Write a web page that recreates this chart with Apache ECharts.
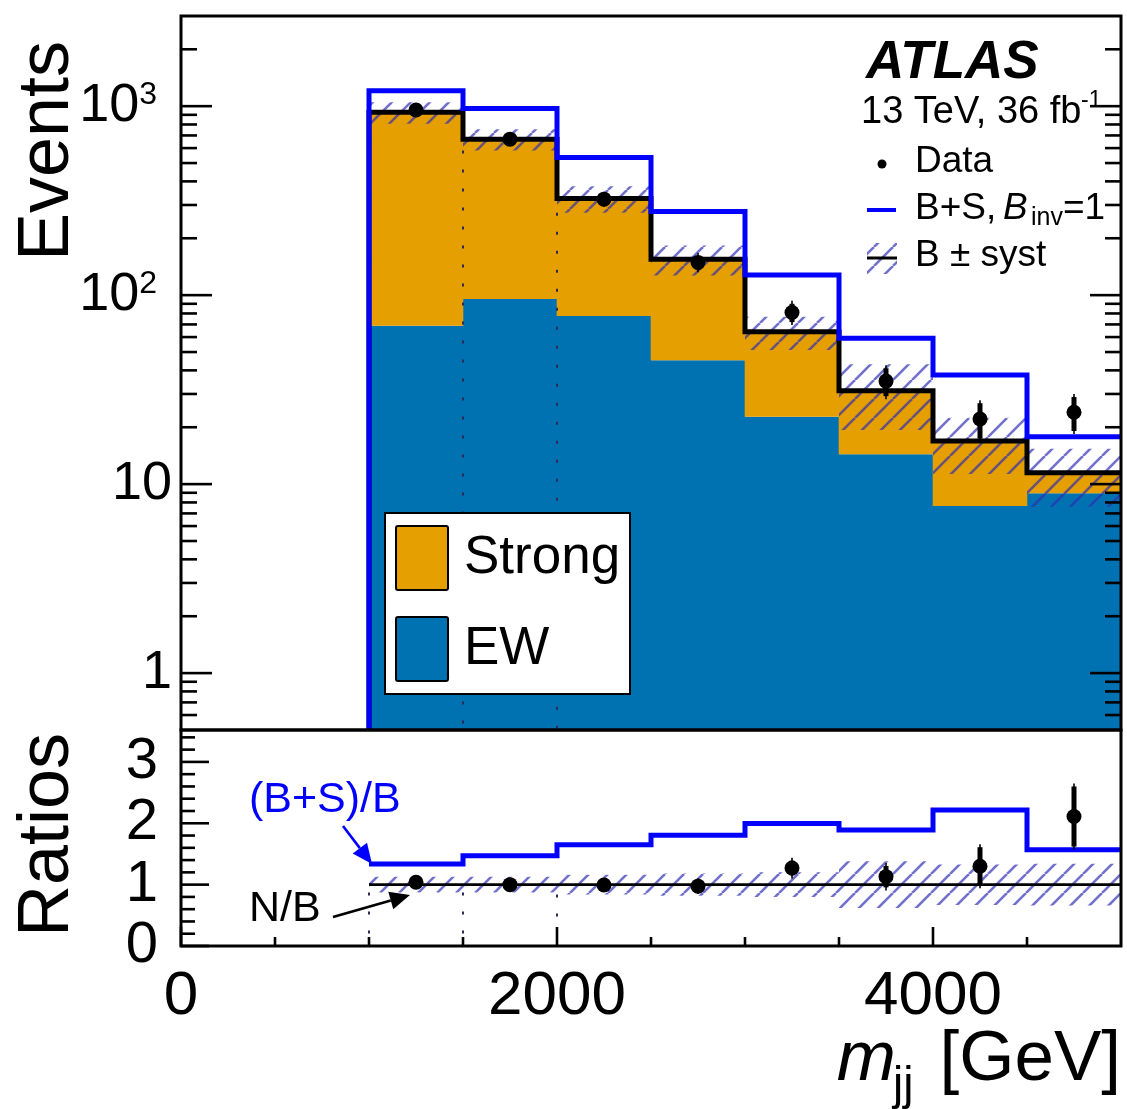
<!DOCTYPE html>
<html>
<head>
<meta charset="utf-8">
<script src="https://cdn.jsdelivr.net/npm/echarts@6/dist/echarts.min.js"></script>
<style>
  html, body { margin: 0; padding: 0; background: #fff; }
  #chart { width: 1127px; height: 1109px; }
</style>
</head>
<body>
<div id="chart"></div>
<script>
// m_jj bins [GeV]
const binEdges = [1000, 1500, 2000, 2500, 3000, 3500, 4000, 4500, 5000];
// background components (stacked)
const ewYield = [68.9, 95.3, 77.6, 45.3, 22.7, 14.4, 7.67, 8.95];
const strongYield = [860, 574, 247, 110, 41.3, 16.8, 9.2, 2.55];
// total background and its relative systematic uncertainty
const bkgTotal = [929, 669, 325, 155, 64, 31.2, 16.9, 11.5];
const bkgSystRel = [0.13, 0.13, 0.16, 0.18, 0.20, 0.38, 0.33, 0.34];
// background + signal for B_inv = 1
const sigPlusBkg = [1205, 972, 535, 277, 128, 59.2, 37.8, 17.8];
// observed events
const dataCounts = [955, 669, 322, 149, 81, 35.1, 22.1, 24.0];
const dataErr = [31, 26, 18, 12, 9, 5.9, 4.7, 4.9];
// ratio panel
const ratioSplusB = [1.335, 1.47, 1.65, 1.805, 1.995, 1.89, 2.215, 1.567];
const ratioNB = [1.04, 1.0, 0.995, 0.975, 1.27, 1.13, 1.30, 2.11];
const ratioNBErr = [0.03, 0.04, 0.055, 0.08, 0.12, 0.175, 0.31, 0.49];
// axes
const massRange = [0, 5000];
const eventsRange = [0.5, 3000];
const ratioRange = [0, 3.52];
const massLabelStep = 2000;
const massMinorStep = 500;
const eventsMajorTicks = [1, 10, 100, 1000];
const ratioMajorTicks = [0, 1, 2, 3];
const ratioMinorStep = 0.2;
const dottedEdgesTop = [1500, 2000];
const dottedEdgesBottom = [1000, 1500, 2000];

const FONT = "'Liberation Sans', Arial, Helvetica, sans-serif";
const ORANGE = '#E69F00';
const EWBLUE = '#0072B2';
const LINEBLUE = '#0000FF';

function makeHatch() {
  const s = 19;
  const c = document.createElement('canvas');
  c.width = s; c.height = s;
  const ctx = c.getContext('2d');
  ctx.strokeStyle = 'rgba(45,45,180,0.68)';
  ctx.lineWidth = 2.6;
  for (const o of [-s, 0, s]) {
    ctx.beginPath();
    ctx.moveTo(o, s);
    ctx.lineTo(o + s, 0);
    ctx.stroke();
  }
  return c;
}
const hatchFill = { image: makeHatch(), repeat: 'repeat' };

// tick value lists
const eventsMinorTicks = [];
[0.1, 1, 10, 100, 1000].forEach(d => {
  for (let k = 2; k <= 9; k++) {
    const v = +(k * d).toPrecision(3);
    if (v > eventsRange[0] && v < eventsRange[1]) eventsMinorTicks.push(v);
  }
});
const massMajorTicks = [], massMinorTicks = [];
for (let v = massRange[0]; v < massRange[1]; v += massMinorStep) {
  (v % massLabelStep === 0 ? massMajorTicks : massMinorTicks).push(v);
}
const ratioMinorTicks = [];
for (let i = 1; i * ratioMinorStep < ratioRange[1]; i++) {
  const v = +(i * ratioMinorStep).toFixed(2);
  if (Math.abs(v - Math.round(v)) > 1e-6) ratioMinorTicks.push(v);
}

const nBins = binEdges.length - 1;
const binLo = binEdges.slice(0, nBins);
const binHi = binEdges.slice(1);
const binMid = binLo.map((lo, i) => (lo + binHi[i]) / 2);

function tickMarks(gi, axis, values, len, bothSides) {
  const yRef = gi === 0 ? eventsRange[0] : ratioRange[0];
  return {
    type: 'custom', xAxisIndex: gi, yAxisIndex: gi, silent: true, z: 30, clip: false,
    data: values.map(v => axis === 'y' ? [massRange[0], v] : [v, yRef]),
    encode: { x: 0, y: 1 },
    renderItem(params, api) {
      const cs = params.coordSys;
      const p = api.coord([api.value(0), api.value(1)]);
      const st = { stroke: '#000', lineWidth: 2.6 };
      const kids = [];
      if (axis === 'y') {
        kids.push({ type: 'line', shape: { x1: cs.x, y1: p[1], x2: cs.x + len, y2: p[1] }, style: st });
        if (bothSides) kids.push({ type: 'line', shape: { x1: cs.x + cs.width, y1: p[1], x2: cs.x + cs.width - len, y2: p[1] }, style: st });
      } else {
        const yb = cs.y + cs.height;
        kids.push({ type: 'line', shape: { x1: p[0], y1: yb, x2: p[0], y2: yb - len }, style: st });
      }
      return { type: 'group', children: kids };
    }
  };
}

// histogram fill between two values of the upper panel
function fillSeries(name, lower, upper, color, z) {
  return {
    name, type: 'custom', xAxisIndex: 0, yAxisIndex: 0, z, clip: true, silent: true,
    data: binLo.map((lo, i) => [lo, binHi[i], lower ? lower[i] : eventsRange[0], upper(i)]),
    encode: { x: [0, 1], y: [3] },
    renderItem(params, api) {
      const a = api.coord([api.value(0), api.value(3)]);
      const b = api.coord([api.value(1), api.value(2)]);
      return { type: 'rect', shape: { x: a[0] - 0.3, y: a[1], width: b[0] - a[0] + 0.6, height: b[1] - a[1] }, style: { fill: color } };
    }
  };
}

function hatchSeries(gi, center) {
  return {
    type: 'custom', xAxisIndex: gi, yAxisIndex: gi, z: 5, clip: true, silent: true,
    data: binLo.map((lo, i) => [lo, binHi[i], center(i) * (1 - bkgSystRel[i]), center(i) * (1 + bkgSystRel[i])]),
    encode: { x: [0, 1], y: [2, 3] },
    renderItem(params, api) {
      const a = api.coord([api.value(0), api.value(3)]);
      const b = api.coord([api.value(1), api.value(2)]);
      return { type: 'rect', shape: { x: a[0], y: a[1], width: b[0] - a[0], height: b[1] - a[1] }, style: { fill: hatchFill } };
    }
  };
}

function dottedSeries(gi, edges, startVal) {
  return {
    type: 'custom', xAxisIndex: gi, yAxisIndex: gi, z: 4, clip: true, silent: true,
    data: edges.map(e => [e, startVal(binEdges.indexOf(e))]),
    encode: { x: 0, y: 1 },
    renderItem(params, api) {
      const cs = params.coordSys;
      const p = api.coord([api.value(0), api.value(1)]);
      return { type: 'line', shape: { x1: p[0], y1: p[1], x2: p[0], y2: cs.y + cs.height },
        style: { stroke: '#2b2b55', lineWidth: 2, lineDash: [3, 16] } };
    }
  };
}

function stepLine(gi, values, color, width, fromBottom, z) {
  const pts = [];
  if (fromBottom) pts.push([binEdges[0], eventsRange[0]]);
  binLo.forEach((lo, i) => pts.push([lo, values[i]]));
  pts.push([binEdges[nBins], values[nBins - 1]]);
  return {
    type: 'line', xAxisIndex: gi, yAxisIndex: gi, step: 'end', data: pts, z, silent: true,
    symbol: 'none', lineStyle: { color, width, join: 'miter', cap: 'butt' }, animation: false
  };
}

function errorBars(gi, values, errs) {
  return {
    type: 'custom', xAxisIndex: gi, yAxisIndex: gi, z: 8, clip: true, silent: true,
    data: binMid.map((m, i) => [m, values[i], values[i] - errs[i], values[i] + errs[i]]),
    encode: { x: 0, y: [1, 2, 3] },
    renderItem(params, api) {
      const lo = api.coord([api.value(0), api.value(2)]);
      const hi = api.coord([api.value(0), api.value(3)]);
      return { type: 'group', children: [
        { type: 'line', shape: { x1: lo[0], y1: lo[1] + 3, x2: hi[0], y2: hi[1] - 3 }, style: { stroke: '#000', lineWidth: 1.6 } },
        { type: 'line', shape: { x1: lo[0], y1: lo[1], x2: hi[0], y2: hi[1] }, style: { stroke: '#000', lineWidth: 5 } }
      ] };
    }
  };
}

function dataPoints(gi, values) {
  return {
    type: 'scatter', xAxisIndex: gi, yAxisIndex: gi, z: 9, silent: true,
    data: binMid.map((m, i) => [m, values[i]]),
    symbol: 'circle', symbolSize: 15, itemStyle: { color: '#000', opacity: 1 }
  };
}

function isPow10(v) {
  const l = Math.log10(v);
  return Math.abs(l - Math.round(l)) < 1e-6;
}

function arrow(tail, tip, color) {
  const dx = tip[0] - tail[0], dy = tip[1] - tail[1];
  const L = Math.hypot(dx, dy), ux = dx / L, uy = dy / L;
  const hl = 20, hw = 9;
  const bc = [tip[0] - hl * ux, tip[1] - hl * uy];
  return [
    { type: 'line', z: 100, shape: { x1: tail[0], y1: tail[1], x2: bc[0], y2: bc[1] }, style: { stroke: color, lineWidth: 2.6 } },
    { type: 'polygon', z: 100, shape: { points: [tip, [bc[0] - hw * uy, bc[1] + hw * ux], [bc[0] + hw * uy, bc[1] - hw * ux]] }, style: { fill: color } }
  ];
}

function txt(x, y, text, size, opts) {
  opts = opts || {};
  return {
    type: 'text', x, y, z: 100, rotation: opts.rotation || 0,
    style: {
      text, fill: opts.color || '#000',
      font: (opts.style || 'normal') + ' ' + (opts.weight || 'normal') + ' ' + size + 'px ' + FONT,
      textAlign: opts.align || 'left', textVerticalAlign: 'middle'
    }
  };
}

const chart = echarts.init(document.getElementById('chart'), null, { renderer: 'canvas' });

const option = {
  animation: false,
  backgroundColor: '#fff',
  grid: [
    { left: 181, top: 16, width: 940, height: 714, show: false },
    { left: 181, top: 730, width: 940, height: 216, show: false }
  ],
  xAxis: [
    { type: 'value', gridIndex: 0, min: massRange[0], max: massRange[1],
      axisLine: { show: false }, axisTick: { show: false }, axisLabel: { show: false }, splitLine: { show: false } },
    { type: 'value', gridIndex: 1, min: massRange[0], max: massRange[1], interval: massLabelStep,
      axisLine: { show: false }, axisTick: { show: false }, splitLine: { show: false },
      axisLabel: { margin: 20, fontSize: 62, fontFamily: FONT, color: '#000',
        formatter: v => (v % massLabelStep === 0 && v < massRange[1]) ? String(v) : '' } }
  ],
  yAxis: [
    { type: 'log', logBase: 10, gridIndex: 0, min: eventsRange[0], max: eventsRange[1],
      axisLine: { show: false }, axisTick: { show: false }, splitLine: { show: false },
      axisLabel: { margin: 9, fontFamily: FONT, color: '#000',
        formatter: v => {
          if (!isPow10(v) || v < 0.99 || v > 1001) return '';
          const e = Math.round(Math.log10(v));
          return e >= 2 ? '{b|10}{e|' + e + '}' : '{b|' + Math.pow(10, e) + '}';
        },
        rich: {
          b: { fontSize: 54, fontFamily: FONT, color: '#000' },
          e: { fontSize: 32, fontFamily: FONT, color: '#000', verticalAlign: 'top', padding: [0, 15, 0, 0] }
        } } },
    { type: 'value', gridIndex: 1, min: ratioRange[0], max: ratioRange[1], interval: 1,
      axisLine: { show: false }, axisTick: { show: false }, splitLine: { show: false },
      axisLabel: { margin: 23, fontSize: 58, fontFamily: FONT, color: '#000',
        formatter: v => ratioMajorTicks.includes(v) ? String(v) : '' } }
  ],
  series: [
    fillSeries('EW', null, i => ewYield[i], EWBLUE, 1),
    fillSeries('Strong', ewYield, i => ewYield[i] + strongYield[i], ORANGE, 1),
    dottedSeries(0, dottedEdgesTop, i => bkgTotal[i] * (1 - bkgSystRel[i])),
    hatchSeries(0, i => bkgTotal[i]),
    stepLine(0, bkgTotal, '#000', 5, true, 6),
    stepLine(0, sigPlusBkg, LINEBLUE, 5, true, 7),
    errorBars(0, dataCounts, dataErr),
    dataPoints(0, dataCounts),

    dottedSeries(1, dottedEdgesBottom, i => 1 - bkgSystRel[i]),
    hatchSeries(1, () => 1),
    { type: 'line', xAxisIndex: 1, yAxisIndex: 1, data: [[binEdges[0], 1], [binEdges[nBins], 1]], z: 6,
      symbol: 'none', silent: true, lineStyle: { color: '#000', width: 2.6 } },
    stepLine(1, ratioSplusB, LINEBLUE, 5, false, 7),
    errorBars(1, ratioNB, ratioNBErr),
    dataPoints(1, ratioNB),

    tickMarks(0, 'y', eventsMajorTicks, 31, true),
    tickMarks(0, 'y', eventsMinorTicks, 16, true),
    tickMarks(1, 'y', ratioMajorTicks, 28, false),
    tickMarks(1, 'y', ratioMinorTicks, 14, false),
    tickMarks(1, 'x', massMajorTicks, 19, false),
    tickMarks(1, 'x', massMinorTicks, 9, false)
  ],
  graphic: [
    // panel frames
    { type: 'rect', z: 100, shape: { x: 181, y: 16, width: 940, height: 714 }, style: { fill: 'none', stroke: '#000', lineWidth: 3 } },
    { type: 'rect', z: 100, shape: { x: 181, y: 730, width: 940, height: 216 }, style: { fill: 'none', stroke: '#000', lineWidth: 3 } },

    // axis titles
    txt(48, 151, 'Events', 72, { align: 'center', rotation: Math.PI / 2 }),
    txt(48, 835, 'Ratios', 72, { align: 'center', rotation: Math.PI / 2 }),
    txt(1121, 1060, '[GeV]', 71, { align: 'right' }),
    txt(896, 1060, 'm', 71, { align: 'right', style: 'italic' }),
    txt(893, 1086, 'jj', 46, { align: 'left' }),

    // labels
    txt(866, 63, 'ATLAS', 53, { weight: 'bold', style: 'italic' }),
    txt(861, 113, '13 TeV, 36 fb', 38),
    txt(1081, 101, '-1', 23),

    { type: 'circle', z: 100, shape: { cx: 882, cy: 164, r: 4.5 }, style: { fill: '#000' } },
    txt(915, 162, 'Data', 37),

    { type: 'line', z: 100, shape: { x1: 867, y1: 210, x2: 896, y2: 210 }, style: { stroke: LINEBLUE, lineWidth: 4 } },
    txt(915, 209, 'B+S,', 37),
    txt(1003, 209, 'B', 37, { style: 'italic' }),
    txt(1031, 218, 'inv', 25),
    txt(1063, 209, '=1', 37),

    { type: 'rect', z: 100, shape: { x: 867, y: 243, width: 30, height: 31 }, style: { fill: hatchFill } },
    { type: 'line', z: 100, shape: { x1: 867, y1: 258, x2: 897, y2: 258 }, style: { stroke: '#000', lineWidth: 3 } },
    txt(915, 256, 'B \u00B1 syst', 37),

    // component legend
    { type: 'rect', z: 100, shape: { x: 385, y: 513, width: 245, height: 181 }, style: { fill: '#fff', stroke: '#000', lineWidth: 2 } },
    { type: 'rect', z: 100, shape: { x: 396, y: 526, width: 52, height: 64, r: 2 }, style: { fill: ORANGE, stroke: '#000', lineWidth: 2 } },
    { type: 'rect', z: 100, shape: { x: 396, y: 617, width: 52, height: 64, r: 2 }, style: { fill: EWBLUE, stroke: '#000', lineWidth: 2 } },
    txt(464, 558, 'Strong', 53),
    txt(464, 649, 'EW', 53),

    // ratio annotations
    txt(249, 800, '(B+S)/B', 43, { color: LINEBLUE }),
    ...arrow([343, 826], [372, 864], LINEBLUE),
    txt(249, 909, 'N/B', 43),
    ...arrow([333, 917], [410, 895], '#000')
  ]
};

chart.setOption(option);
</script>
</body>
</html>
